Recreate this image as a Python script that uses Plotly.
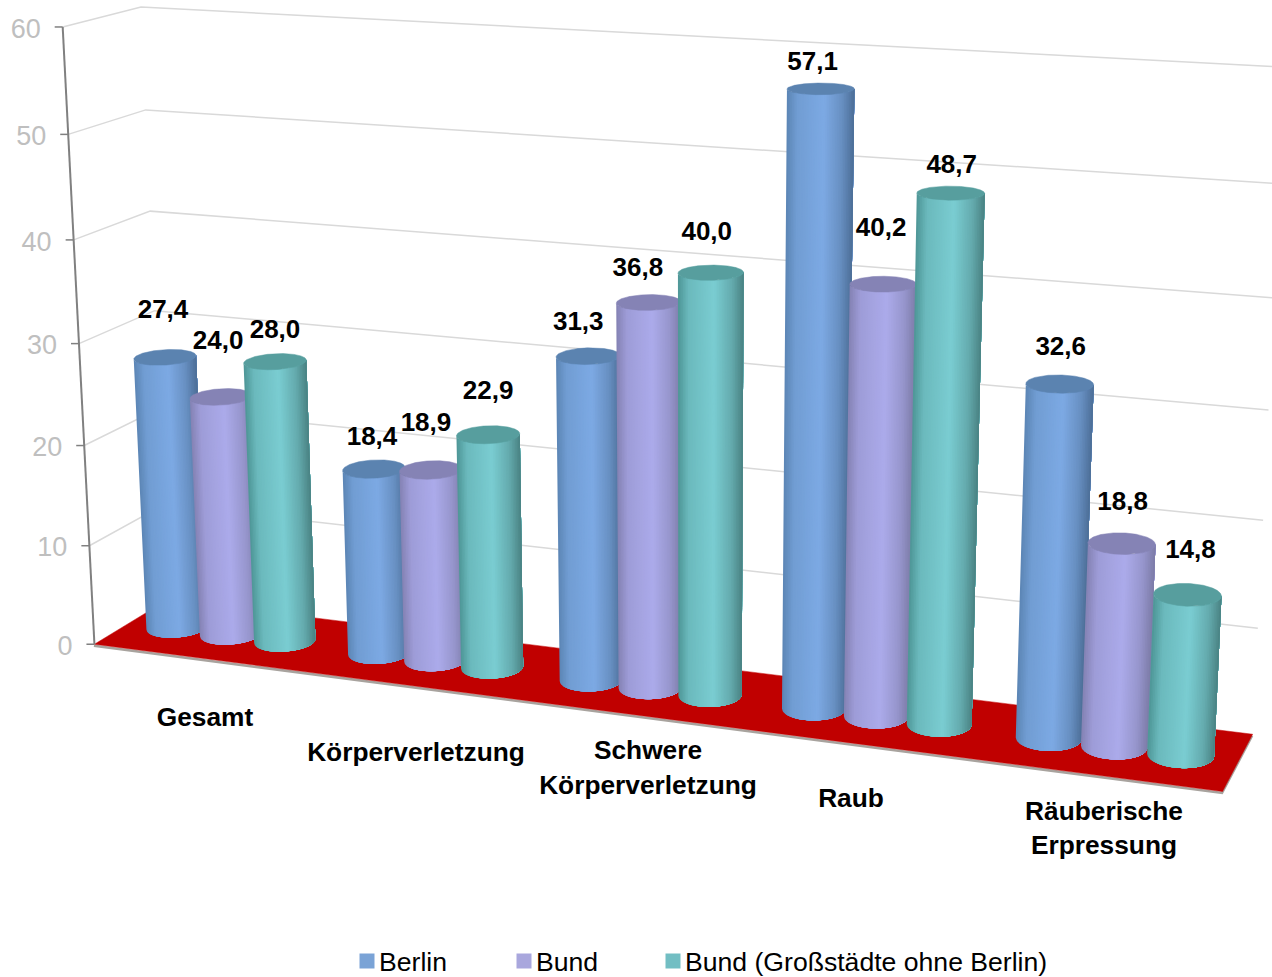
import numpy as np
import plotly.graph_objects as go

# ---- chart data ----
categories = ["Gesamt", "Körperverletzung", "Schwere<br>Körperverletzung", "Raub", "Räuberische<br>Erpressung"]
berlin = [27.4, 18.4, 31.3, 57.1, 32.6]
bund = [24.0, 18.9, 36.8, 40.2, 18.8]
grossstaedte = [28.0, 22.9, 40.0, 48.7, 14.8]
series_names = ["Berlin", "Bund", "Bund (Großstädte ohne Berlin)"]
value_ticks = [0, 10, 20, 30, 40, 50, 60]

# ---- styling ----
W, H = 1272, 977
FONT = "Liberation Sans, Arial, sans-serif"
SHADES = [
    {"left": "#5C86B5", "light": "#7DAAE4", "right": "#4D6F98", "cap": "#5B83B0", "key": "#7AA3D6"},
    {"left": "#8482B4", "light": "#ACABEB", "right": "#7D7CA8", "cap": "#8583B5", "key": "#A9A7DD"},
    {"left": "#4E9696", "light": "#7BCDD2", "right": "#4A8383", "cap": "#579E9E", "key": "#72BEC3"},
]
SERIES_STEP = 0.27      # spacing of the cylinders inside a cluster, in category units
RADIUS_X = 0.132        # cylinder radius along the category axis
RADIUS_Y = 0.22         # cylinder radius along the depth axis
DEPTH_CENTER = 0.5
STRIPS = 40

# label placement relative to the centre of each cylinder's top, in screen pixels
berlin_label_offsets = [(-2, -46), (-2, -30), (-10, -33), (-8, -25), (1, -35)]
bund_label_offsets = [(-3, -54), (-5, -45), (-11, -33), (-2, -55), (1, -40)]
gross_label_offsets = [(0, -30), (0, -42), (-4, -39), (1, -27), (3, -43)]
category_label_positions = [(205, 719), (416, 754), (648, 770), (851, 800), (1104, 830.5)]

# ---- view: a projective camera solved from axis-space anchors ----
view_anchors = [
    (0, 0, 60, 62, 28), (0, 0, 50, 67.5, 135), (0, 0, 40, 73, 240), (0, 0, 30, 78.5, 343),
    (0, 0, 20, 84, 445), (0, 0, 10, 90, 545), (0, 0, 0, 96, 644),
    (0, 1, 60, 142, 6), (0, 1, 50, 146, 110), (0, 1, 40, 151, 211), (0, 1, 0, 166, 601),
    (5, 0, 0, 1223, 792),
    (5, 1, 0, 1252, 734), (5, 1, 10, 1258, 628), (5, 1, 20, 1263, 520),
    (5, 1, 50, 1280, 184), (5, 1, 60, 1285, 67),
]


def solve_camera(anchors):
    rows = []
    for x, y, z, u, v in anchors:
        p = [x / 5, y, z / 60, 1]
        u, v = u / 1000, v / 1000
        rows.append(p + [0, 0, 0, 0] + [-u * c for c in p])
        rows.append([0, 0, 0, 0] + p + [-v * c for c in p])
    _, _, vt = np.linalg.svd(np.array(rows, dtype=float))
    return vt[-1].reshape(3, 4)


CAMERA = solve_camera(view_anchors)


def project(x, y, z):
    x, y, z = np.broadcast_arrays(np.asarray(x, float), np.asarray(y, float), np.asarray(z, float))
    p = np.stack([x / 5, y, z / 60, np.ones_like(x)])
    q = CAMERA @ p
    return q[0] / q[2] * 1000, q[1] / q[2] * 1000


def hex_rgb(c):
    return np.array([int(c[i:i + 2], 16) for i in (1, 3, 5)], float)


def shade(style, s):
    stops = [0.0, 0.16, 0.55, 0.82, 1.0]
    a, b, c = hex_rgb(style["left"]), hex_rgb(style["light"]), hex_rgb(style["right"])
    cols = [a, 0.35 * a + 0.65 * b, b, 0.45 * c + 0.55 * b, c]
    rgb = [np.interp(s, stops, [k[i] for k in cols]) for i in range(3)]
    return "rgb(%d,%d,%d)" % tuple(rgb)


fig = go.Figure()


def poly(xs, ys, color, width=0.0):
    fig.add_trace(go.Scatter(
        x=list(xs), y=list(ys), mode="lines", fill="toself", fillcolor=color,
        line=dict(color=color, width=width), hoverinfo="skip", showlegend=False,
    ))


def line(xs, ys, color, width):
    fig.add_trace(go.Scatter(
        x=list(xs), y=list(ys), mode="lines", line=dict(color=color, width=width),
        hoverinfo="skip", showlegend=False,
    ))


# walls: gridlines running along the side wall and the back wall
for tick in value_ticks[1:]:
    xs, ys = project([0, 0, 5], [0, 1, 1], [tick, tick, tick])
    line(xs, ys, "#D9D9D9", 1.5)

# floor with its thin shadow edge
fx, fy = project([0, 5, 5, 0, 0], [0, 0, 1, 1, 0], [0, 0, 0, 0, 0])
line(fx[:3] - 0.5, fy[:3] + 1.5, "#A8A39E", 2.5)
poly(fx, fy, "#C00000", 0.5)

# value axis with tick marks and labels
ax_x, ax_y = project([0, 0], [0, 0], [0, 60])
line(ax_x, ax_y, "#808080", 2)
tx, ty = project(np.zeros(len(value_ticks)), np.zeros(len(value_ticks)), value_ticks)
for x0, y0 in zip(tx, ty):
    line([x0 - 8, x0], [y0, y0], "#808080", 1.5)
fig.add_trace(go.Scatter(
    x=tx - 22, y=ty + 4, mode="text", text=[str(t) for t in value_ticks],
    textposition="middle left", textfont=dict(family=FONT, size=27, color="#BFBFBF"),
    hoverinfo="skip", showlegend=False,
))


def cylinder(center_x, value, style):
    t = np.linspace(0, 2 * np.pi, 1441)[:-1]
    cx = center_x + RADIUS_X * np.cos(t)
    cy = DEPTH_CENTER + RADIUS_Y * np.sin(t)
    bx, by = project(cx, cy, 0 * t)
    ux, uy = project(cx, cy, 0 * t + value)
    mid = (bx + ux) / 2
    i_left, i_right = int(np.argmin(mid)), int(np.argmax(mid))
    # walk from the left silhouette round the viewer-facing side to the right one
    steps = (i_right - i_left) % len(t)
    arc = (i_left + np.arange(steps + 1)) % len(t)
    span = mid[i_right] - mid[i_left]
    # strips spaced evenly on screen; each one paints over everything to its right
    targets = mid[i_left] + span * np.linspace(0, 1, STRIPS + 1)
    cuts = np.searchsorted(mid[arc], targets[:-1])
    for n, cut in enumerate(cuts):
        tail = arc[min(cut, len(arc) - 2):]
        tail = tail[::8] if len(tail) > 16 else tail
        tail = np.append(tail, arc[-1])
        xs = np.concatenate([bx[tail], ux[tail][::-1], bx[tail][:1]])
        ys = np.concatenate([by[tail], uy[tail][::-1], by[tail][:1]])
        poly(xs, ys, shade(style, (n + 0.5) / STRIPS))
    poly(np.append(ux, ux[0]), np.append(uy, uy[0]), style["cap"], 0.5)


series = [berlin, bund, grossstaedte]
offsets = [berlin_label_offsets, bund_label_offsets, gross_label_offsets]

# cylinders, cluster by cluster from left to right
for k in range(len(categories)):
    for j, values in enumerate(series):
        cylinder(k + 0.5 + (j - 1) * SERIES_STEP, values[k], SHADES[j])

# value labels above the cylinders
for j, values in enumerate(series):
    xs = np.arange(len(categories)) + 0.5 + (j - 1) * SERIES_STEP
    px, py = project(xs, DEPTH_CENTER, np.array(values))
    fig.add_trace(go.Scatter(
        x=px + np.array([o[0] for o in offsets[j]]),
        y=py + np.array([o[1] for o in offsets[j]]),
        mode="text", text=[f"{v:.1f}".replace(".", ",") for v in values],
        textposition="middle center",
        textfont=dict(family=FONT, size=26, color="#000000", weight="bold"),
        hoverinfo="skip", showlegend=False,
    ))

# category labels below the floor
fig.add_trace(go.Scatter(
    x=[p[0] for p in category_label_positions], y=[p[1] for p in category_label_positions],
    mode="text", text=categories, textposition="middle center",
    textfont=dict(family=FONT, size=26.3, color="#000000", weight="bold"),
    hoverinfo="skip", showlegend=False,
))

# legend row along the bottom edge
key_x = [367, 524, 673]
for name, style, x0 in zip(series_names, SHADES, key_x):
    fig.add_trace(go.Scatter(
        x=[x0], y=[961], mode="markers", name=name,
        marker=dict(symbol="square", size=15, color=style["key"]),
        hoverinfo="skip", showlegend=False,
    ))
    fig.add_trace(go.Scatter(
        x=[x0 + 12], y=[964], mode="text", name=name, text=[name],
        textposition="middle right", textfont=dict(family=FONT, size=26.6, color="#000000"),
        hoverinfo="skip", showlegend=False,
    ))

fig.update_layout(
    width=W, height=H, autosize=False, margin=dict(l=0, r=0, t=0, b=0),
    paper_bgcolor="#FFFFFF", plot_bgcolor="#FFFFFF", showlegend=False,
    xaxis=dict(range=[0, W], visible=False, fixedrange=True),
    yaxis=dict(range=[H, 0], visible=False, fixedrange=True),
)
fig.write_html("out.html", config={"displayModeBar": False})
